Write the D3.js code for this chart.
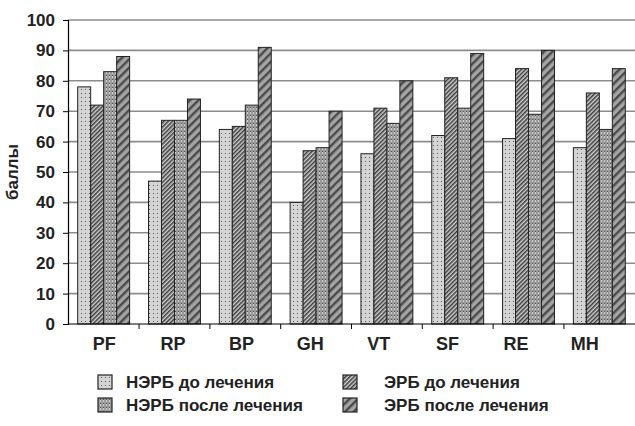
<!DOCTYPE html>
<html><head><meta charset="utf-8">
<script src="https://cdn.jsdelivr.net/npm/d3@7"></script>
<style>body{margin:0;background:#fff}svg{display:block}text{font-family:"Liberation Sans",Arial,sans-serif;font-weight:bold}</style>
</head><body>
<svg id="c" width="635" height="426"></svg>
<script>
const categories = ["PF","RP","BP","GH","VT","SF","RE","MH"];
const seriesNames = ["НЭРБ до лечения","ЭРБ до лечения","НЭРБ после лечения","ЭРБ после лечения"];
const nerbBefore = [78,47,64,40,56,62,61,58];
const erbBefore  = [72,67,65,57,71,81,84,76];
const nerbAfter  = [83,67,72,58,66,71,69,64];
const erbAfter   = [88,74,91,70,80,89,90,84];
const yTicks = [0,10,20,30,40,50,60,70,80,90,100];
const yLabel = "баллы";
const values = [nerbBefore, erbBefore, nerbAfter, erbAfter];

const svg = d3.select("#c");
const defs = svg.append("defs");
function pat(id, w, h, build, rot){
  const p = defs.append("pattern").attr("id",id).attr("patternUnits","userSpaceOnUse").attr("width",w).attr("height",h);
  if(rot) p.attr("patternTransform","rotate("+rot+")");
  build(p); return "url(#"+id+")";
}
const fills = [
  pat("p0",4,4,p=>{p.append("rect").attr("width",4).attr("height",4).attr("fill","#d4d4d4");
    p.append("rect").attr("x",1).attr("y",1).attr("width",1).attr("height",1).attr("fill","#5a5a5a");}),
  pat("p1",3,3,p=>{p.append("rect").attr("width",3).attr("height",3).attr("fill","#cfcfcf");
    p.append("rect").attr("x",0).attr("y",0).attr("width",1.5).attr("height",3).attr("fill","#3c3c3c");},45),
  pat("p2",3,4,p=>{p.append("rect").attr("width",3).attr("height",4).attr("fill","#9a9a9a");
    p.append("rect").attr("x",1).attr("y",0).attr("width",1).attr("height",2).attr("fill","#cccccc");
    p.append("rect").attr("x",1).attr("y",3).attr("width",1).attr("height",1).attr("fill","#555");}),
  pat("p3",6,6,p=>{p.append("rect").attr("width",6).attr("height",6).attr("fill","#a4a4a4");
    p.append("rect").attr("x",0).attr("y",0).attr("width",2.4).attr("height",6).attr("fill","#4a4a4a");},45)
];

const x = d3.scaleBand().domain(categories).range([68,635]).paddingInner(0.2666).paddingOuter(0.137);
const xs = d3.scaleBand().domain(d3.range(seriesNames.length)).range([0,x.bandwidth()]);
const xl = d3.scaleBand().domain(categories).range([70,619]);
const y = d3.scaleLinear().domain([0,100]).range([324,20]);

svg.append("g").selectAll("line").data(yTicks.slice(1)).join("line")
  .attr("x1",68).attr("x2",635).attr("y1",d=>y(d)).attr("y2",d=>y(d))
  .attr("stroke","#8c8c8c").attr("stroke-width",1.6);

const g = svg.append("g");
categories.forEach((c,i)=>{
  values.forEach((vals,s)=>{
    g.append("rect").attr("x",x(c)+xs(s)).attr("y",y(vals[i]))
      .attr("width",xs.bandwidth()).attr("height",y(0)-y(vals[i]))
      .attr("fill",fills[s]).attr("stroke","#222").attr("stroke-width",1);
  });
});

const ya = svg.append("g").attr("transform","translate(68,0)")
  .call(d3.axisLeft(y).tickValues(yTicks).tickSize(5).tickPadding(8));
ya.select(".domain").attr("stroke","#000").attr("stroke-width",1.2);
ya.selectAll(".tick line").attr("stroke","#000");
ya.selectAll("text").attr("font-size",17).attr("fill","#222").style("font-weight","bold").attr("font-family","Liberation Sans, Arial, sans-serif");

const bounds = categories.map(c=>x(c)-x.step()*x.paddingInner()/2);
svg.append("line").attr("x1",68).attr("x2",635).attr("y1",y(0)).attr("y2",y(0)).attr("stroke","#000").attr("stroke-width",1.2);
svg.append("g").selectAll("line").data(bounds.slice(1)).join("line")
  .attr("x1",d=>d).attr("x2",d=>d).attr("y1",y(0)).attr("y2",y(0)+5).attr("stroke","#000");

svg.append("g").selectAll("text").data(categories).join("text")
  .attr("x",d=>xl(d)+xl.bandwidth()/2).attr("y",350).attr("text-anchor","middle")
  .attr("font-size",18).attr("fill","#222").text(d=>d);

svg.append("text").attr("transform","translate(18,172) rotate(-90)").attr("text-anchor","middle")
  .attr("font-size",17).attr("fill","#222").text(yLabel);

const legPos = [[98,375],[343,375],[98,398],[343,398]];
const textX = [126,384,126,384];
seriesNames.forEach((n,s)=>{
  svg.append("rect").attr("x",legPos[s][0]).attr("y",legPos[s][1]).attr("width",14).attr("height",14)
    .attr("fill",fills[s]).attr("stroke","#222").attr("stroke-width",1.2);
  svg.append("text").attr("x",textX[s]).attr("y",legPos[s][1]+13).attr("font-size",17).attr("fill","#222").text(n);
});
</script>
</body></html>
